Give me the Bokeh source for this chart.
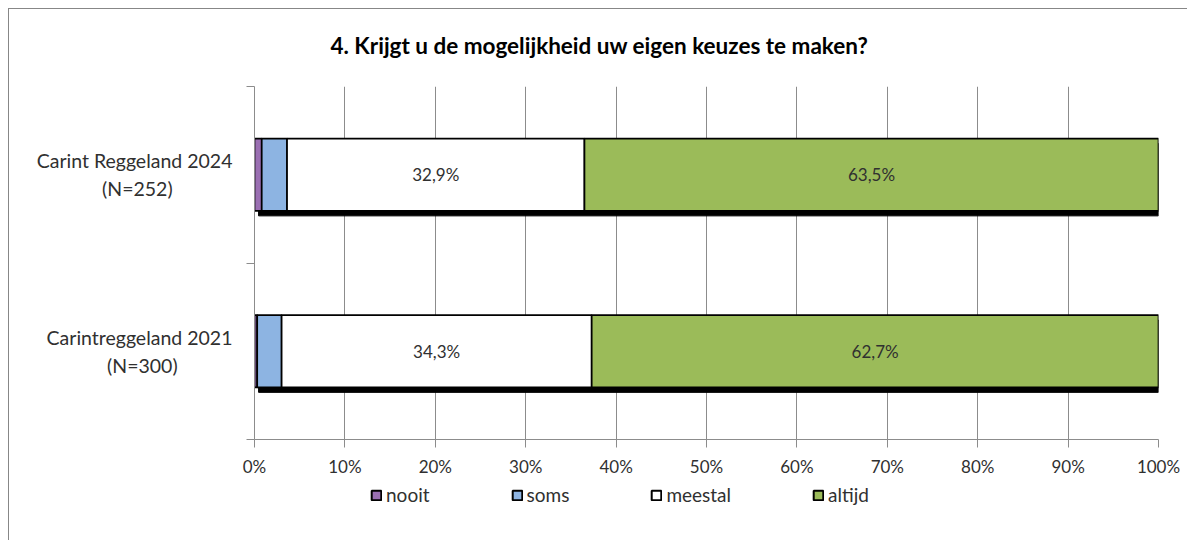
from bokeh.plotting import figure
from bokeh.models import (ColumnDataSource, Range1d, FixedTicker, Legend, LegendItem)
from bokeh.layouts import column
from bokeh.core.properties import value
from bokeh.embed import file_html
from bokeh.resources import INLINE

# ---- data ----
group_names = ["Carintreggeland 2021", "Carint Reggeland 2024"]
group_n = ["(N=300)", "(N=252)"]
nooit = [0.3, 0.8]
soms = [2.7, 2.8]
meestal = [34.3, 32.9]
altijd = [62.7, 63.5]
x_ticks = [0, 10, 20, 30, 40, 50, 60, 70, 80, 90, 100]
x_tick_labels = ["0%", "10%", "20%", "30%", "40%", "50%", "60%", "70%", "80%", "90%", "100%"]
series_names = ["nooit", "soms", "meestal", "altijd"]
colors = ["#9A6FB2", "#8DB4E2", "#FFFFFF", "#9BBB59"]
title_text = "4. Krijgt u de mogelijkheid uw eigen keuzes te maken?"

FONT = "Lato"
TXT = "#303030"

pads = [11, 12]
groups = [g + "\n" + n + "\u00a0" * k for g, n, k in zip(group_names, group_n, pads)]
ypos = [i + 0.5 for i in range(len(groups))]
bar_h = 0.41

W = 1178


def blank(fig):
    fig.axis.visible = False
    fig.grid.visible = False
    fig.outline_line_color = None
    fig.background_fill_color = "white"
    fig.border_fill_color = "white"


# ---- title strip ----
tf = figure(width=W, height=77, output_backend="svg", toolbar_location=None,
            x_range=Range1d(0, 904), y_range=Range1d(0, 77),
            min_border_left=0, min_border_right=0, min_border_top=0, min_border_bottom=0)
blank(tf)
tf.text(x=[76], y=[41], text=[title_text], text_align="left", text_baseline="middle",
        text_font=value(FONT), text_font_size="22.5px", text_font_style="bold",
        text_color="black")

# ---- main chart ----
p = figure(width=W, height=393, output_backend="svg", toolbar_location=None,
           x_range=Range1d(0, 100), y_range=Range1d(0, len(groups)),
           min_border_left=245, min_border_right=29, min_border_top=0, min_border_bottom=39)
p.outline_line_color = None
p.background_fill_color = "white"
p.border_fill_color = "white"

# shadow (offset black copy of each full bar)
dx = 0.45
dy = 0.028
totals = [n + s + m + a for n, s, m, a in zip(nooit, soms, meestal, altijd)]
shadow = ColumnDataSource(dict(y=[y - dy for y in ypos], left=[dx] * len(groups),
                               right=[t + dx for t in totals]))
p.hbar(y="y", left="left", right="right", height=bar_h, source=shadow,
       fill_color="black", line_color="black")

# stacked bars
series = [nooit, soms, meestal, altijd]
lefts = [0.0] * len(groups)
label_src = dict(x=[], y=[], t=[])
for name, vals, col in zip(series_names, series, colors):
    rights = [l + v for l, v in zip(lefts, vals)]
    src = ColumnDataSource(dict(y=ypos, left=lefts, right=rights))
    p.hbar(y="y", left="left", right="right", height=bar_h, source=src,
           fill_color=col, line_color="black", line_width=1.7)
    if name in ("meestal", "altijd"):
        for l, v, y in zip(lefts, vals, ypos):
            label_src["x"].append(l + v / 2)
            label_src["y"].append(y)
            label_src["t"].append(("%.1f%%" % v).replace(".", ","))
    lefts = rights

p.text(x="x", y="y", text="t", source=ColumnDataSource(label_src),
       text_align="center", text_baseline="middle", text_font=value(FONT),
       text_font_size="17px", text_color=TXT)

# x axis
xa = p.xaxis[0]
xa.ticker = FixedTicker(ticks=x_ticks, minor_ticks=[])
xa.major_label_overrides = {t: l for t, l in zip(x_ticks, x_tick_labels)}
xa.axis_line_color = "#8C8C8C"
xa.major_tick_line_color = "#8C8C8C"
xa.major_tick_out = 8
xa.major_tick_in = 0
xa.major_label_text_font = FONT
xa.major_label_text_font_size = "17px"
xa.major_label_text_color = TXT
xa.major_label_standoff = 8

# y axis
ya = p.yaxis[0]
ya.ticker = FixedTicker(ticks=ypos, minor_ticks=[0, 1, 2])
ya.major_label_overrides = {y: g for y, g in zip(ypos, groups)}
ya.axis_line_color = "#8C8C8C"
ya.major_tick_out = 0
ya.major_tick_in = 0
ya.minor_tick_line_color = "#8C8C8C"
ya.minor_tick_out = 8
ya.minor_tick_in = 0
ya.major_label_text_font = FONT
ya.major_label_text_font_size = "19.5px"
ya.major_label_text_color = TXT
ya.major_label_standoff = 14

p.xgrid.ticker = FixedTicker(ticks=x_ticks)
p.xgrid.grid_line_color = "#8C8C8C"
p.ygrid.grid_line_color = None

# ---- legend strip ----
lf = figure(width=W, height=61, output_backend="svg", toolbar_location=None,
            x_range=Range1d(0, 1), y_range=Range1d(0, 1),
            min_border_left=0, min_border_right=0, min_border_top=0, min_border_bottom=0)
blank(lf)
items = []
for name, col in zip(series_names, colors):
    # one off-range key entry per series, only used to draw the legend swatch
    r = lf.hbar(y=[-5], left=[0], right=[0], height=0.1, fill_color=col,
                line_color="black", line_width=2)
    items.append(LegendItem(label=name, renderers=[r]))
leg = Legend(items=items, orientation="horizontal", location=(116, 34),
             glyph_width=12, glyph_height=12, spacing=81, label_standoff=4,
             padding=0, margin=0, border_line_color=None, background_fill_alpha=0,
             label_text_font=FONT, label_text_font_size="19px", label_text_color=TXT,
             label_height=20)
lf.add_layout(leg, "center")

layout = column(tf, p, lf, spacing=0)
layout.styles = {"margin-left": "8px", "margin-top": "8px",
                 "border-left": "1px solid #878787", "border-top": "1px solid #878787"}

open("out.html", "w").write(file_html(layout, INLINE))
